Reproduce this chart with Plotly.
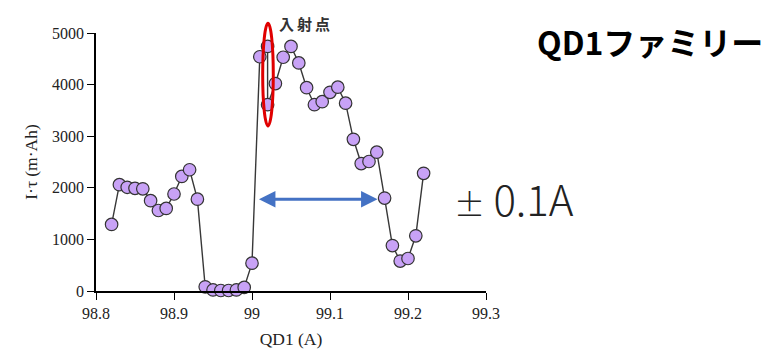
import plotly.graph_objects as go

# Data
qd1_current = [98.82, 98.83, 98.84, 98.85, 98.86, 98.87, 98.88, 98.89, 98.90, 98.91,
               98.92, 98.93, 98.94, 98.95, 98.96, 98.97, 98.98, 98.99, 99.00, 99.01,
               99.02, 99.02, 99.03, 99.04, 99.05, 99.06, 99.07, 99.08, 99.09, 99.10,
               99.11, 99.12, 99.13, 99.14, 99.15, 99.16, 99.17, 99.18, 99.19, 99.20,
               99.21, 99.22]
lifetime_mAh = [1290, 2060, 2010, 1990, 1980, 1750, 1560, 1600, 1880, 2220,
                2350, 1780, 80, 20, 10, 10, 20, 70, 540, 4540,
                4740, 3610, 4020, 4530, 4740, 4420, 3940, 3610, 3670, 3850,
                3950, 3640, 2940, 2470, 2510, 2690, 1800, 880, 580, 630,
                1070, 2280]

x_ticks = [98.8, 98.9, 99.0, 99.1, 99.2, 99.3]
x_tick_labels = ["98.8", "98.9", "99", "99.1", "99.2", "99.3"]
y_ticks = [0, 1000, 2000, 3000, 4000, 5000]
y_max = 5000

title_text = "QD1ファミリー"
injection_label = "入\u2009射\u2009点"
range_label = "<span style='font-size:31px'>±</span>\u20090.1A"
arrow_span = [99.007, 99.161]
arrow_level = 1777
ellipse_x = [99.0137, 99.0273]
ellipse_y = [3198, 5188]

serif = "Liberation Serif, Times New Roman, serif"
cjk = "Noto Sans CJK JP, Noto Sans, sans-serif"

fig = go.Figure()
fig.add_trace(go.Scatter(
    x=qd1_current, y=lifetime_mAh, mode="lines+markers",
    line=dict(color="#383838", width=1.4),
    marker=dict(size=12.5, color="#C8A2F6", line=dict(color="#333333", width=1.2)),
    cliponaxis=False, showlegend=False,
))

axis_common = dict(
    showline=True, linecolor="black", linewidth=1.5, ticks="outside",
    ticklen=7, tickwidth=1.3, tickcolor="black", showgrid=False, zeroline=False,
    tickfont=dict(family=serif, size=16, color="#222222"), automargin=False,
)
fig.update_xaxes(range=[98.8, 99.3], tickvals=x_ticks, ticktext=x_tick_labels,
                 title=dict(text="QD1 (A)", font=dict(family=serif, size=17.5, color="#222222"), standoff=21),
                 **axis_common)
fig.update_yaxes(range=[0, y_max], tickvals=y_ticks,
                 title=dict(text="I·τ (m·Ah)", font=dict(family=serif, size=17.5, color="#222222"), standoff=10),
                 **axis_common)

fig.add_shape(type="circle", xref="x", yref="paper",
              x0=ellipse_x[0], x1=ellipse_x[1],
              y0=ellipse_y[0] / y_max, y1=ellipse_y[1] / y_max,
              line=dict(color="#E00000", width=3))

fig.add_annotation(x=arrow_span[1], y=arrow_level, ax=arrow_span[0], ay=arrow_level,
                   xref="x", yref="y", axref="x", ayref="y", text="",
                   showarrow=True, arrowhead=2, arrowside="end+start", arrowsize=1.1,
                   arrowwidth=3, arrowcolor="#4472C4", standoff=0, startstandoff=0)

fig.add_annotation(x=0.535, y=1.035, xref="paper", yref="paper", text="<b>" + injection_label + "</b>",
                   showarrow=False, font=dict(family=cjk, size=15, color="#333333"),
                   xanchor="center", yanchor="middle")
fig.add_annotation(x=1.715, y=0.969, xref="paper", yref="paper", text="<b>" + title_text + "</b>",
                   showarrow=False, font=dict(family=cjk, size=32, color="black"),
                   xanchor="right", yanchor="middle")
fig.add_annotation(x=0.914, y=0.364, xref="paper", yref="paper", text=range_label,
                   showarrow=False, font=dict(family=cjk, size=42, color="#222222", weight=300),
                   xanchor="left", yanchor="middle")

fig.update_layout(
    width=758, height=341, paper_bgcolor="white", plot_bgcolor="white",
    margin=dict(l=88, r=280, t=25, b=58),
)
fig.write_html("out.html")
